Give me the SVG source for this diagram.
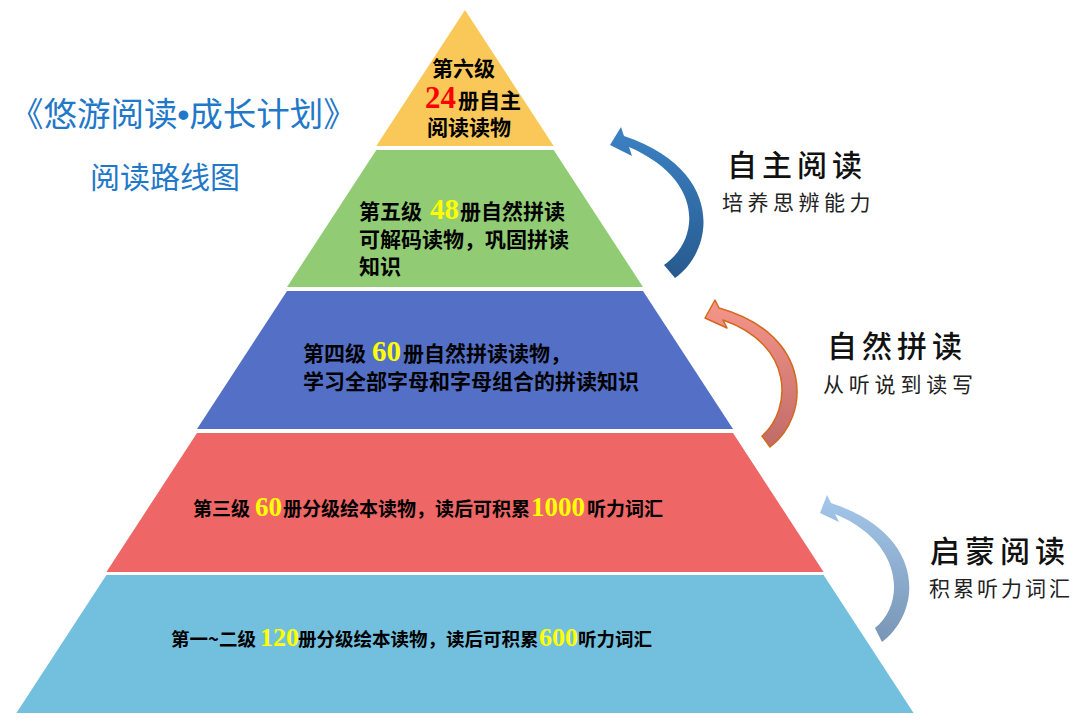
<svg xmlns="http://www.w3.org/2000/svg" width="1080" height="727" viewBox="0 0 1080 727">
<defs>
<linearGradient id="gA1" x1="0" y1="0" x2="0" y2="1">
<stop offset="0" stop-color="#3C82C4"/>
<stop offset="1" stop-color="#275A8E"/>
</linearGradient>
<linearGradient id="gA2" x1="0" y1="0" x2="0" y2="1">
<stop offset="0" stop-color="#F6968A"/>
<stop offset="1" stop-color="#C06B68"/>
</linearGradient>
<linearGradient id="gA3" x1="0" y1="0" x2="0" y2="1">
<stop offset="0" stop-color="#A4C8EA"/>
<stop offset="1" stop-color="#7895B5"/>
</linearGradient>
</defs>
<style>
.lv{font-family:"Noto Sans CJK SC","Noto Sans",sans-serif;font-weight:700;fill:#000}
.big{font-size:21px}
.sm{font-size:19px}
.num{font-family:"Liberation Serif",serif;font-weight:700}
.y{fill:#FFFF00}
.r{fill:#FF0000}
.ttl{font-family:"Noto Sans CJK SC",sans-serif;fill:#1F78C8;font-weight:400}
.hd{font-family:"Noto Sans CJK SC",sans-serif;fill:#111;font-weight:500;font-size:30px;letter-spacing:5px}
.sub{font-family:"Noto Sans CJK SC",sans-serif;fill:#222;font-weight:400;font-size:21px}
</style>
<rect width="1080" height="727" fill="#FFFFFF"/>

<g id="title">
<text class="ttl" x="10" y="126" font-size="33.5">《悠游阅读<tspan font-family="Liberation Sans" font-weight="700">•</tspan>成长计划》</text>
<text class="ttl" x="90" y="188" font-size="30">阅读路线图</text>
</g>

<g id="level6">
<polygon points="465,10 553.7,146 376.3,146" fill="#FAC858"/>
<text class="lv big" x="432" y="76">第六级</text>
<text class="lv big" y="108"><tspan class="num r" x="425" font-size="31">24</tspan><tspan x="458">册自主</tspan></text>
<text class="lv big" x="427" y="135">阅读读物</text>
</g>

<g id="level5">
<polygon points="376.3,150 553.7,150 643,287 287,287" fill="#91CC75"/>
<text class="lv big" y="219"><tspan x="359">第五级</tspan><tspan class="num y" x="430" font-size="29">48</tspan><tspan x="460">册自然拼读</tspan></text>
<text class="lv big" x="359" y="247">可解码读物，巩固拼读</text>
<text class="lv big" x="359" y="274">知识</text>
</g>

<g id="level4">
<polygon points="287,291 643,291 733,429 197,429" fill="#5470C6"/>
<text class="lv big" y="361"><tspan x="303">第四级</tspan><tspan class="num y" x="372" font-size="29">60</tspan><tspan x="403">册自然拼读读物，</tspan></text>
<text class="lv big" x="303" y="389">学习全部字母和字母组合的拼读知识</text>
</g>

<g id="level3">
<polygon points="197,433 733,433 823.6,572 106.4,572" fill="#EE6666"/>
<text class="lv sm" y="516"><tspan x="193">第三级</tspan><tspan class="num y" x="255" font-size="27">60</tspan><tspan x="283">册分级绘本读物，读后可积累</tspan><tspan class="num y" x="531" font-size="27">1000</tspan><tspan x="587">听力词汇</tspan></text>
</g>

<g id="level1-2">
<polygon points="106.4,575 823.6,575 913.6,713 16.4,713" fill="#73C0DE"/>
<text class="lv" font-size="18.5" y="646"><tspan x="171">第一~二级</tspan><tspan class="num y" x="260" font-size="26">120</tspan><tspan x="298">册分级绘本读物，读后可积累</tspan><tspan class="num y" x="539" font-size="26">600</tspan><tspan x="578">听力词汇</tspan></text>
</g>

<g id="connectors">
<path d="M 675 278 C 715 250, 725 170, 624 136 L 621 127 L 610 145 L 632 156 L 629 147 C 705 180, 700 240, 664 265 Z" fill="url(#gA1)"/>
<path d="M 770 447 C 810 418, 815 335, 719 308 L 715 300 L 705 318 L 727 328 L 723 320 C 795 345, 792 410, 762 436 Z" fill="url(#gA2)" stroke="#D2691E" stroke-width="1.5" stroke-linejoin="round"/>
<path d="M 882 642 C 922 612, 928 535, 831 503 L 827 495 L 820 513 L 839 522 L 835 514 C 905 543, 905 605, 875 628 Z" fill="url(#gA3)"/>
</g>

<g id="label-autonomous">
<text class="hd" x="727" y="176">自主阅读</text>
<text class="sub" x="722" y="210" letter-spacing="4.5">培养思辨能力</text>
</g>
<g id="label-phonics">
<text class="hd" x="827" y="357">自然拼读</text>
<text class="sub" x="823" y="392" letter-spacing="4.8">从听说到读写</text>
</g>
<g id="label-enlighten">
<text class="hd" x="930" y="562">启蒙阅读</text>
<text class="sub" x="929" y="596" font-size="20" letter-spacing="3">积累听力词汇</text>
</g>
</svg>
